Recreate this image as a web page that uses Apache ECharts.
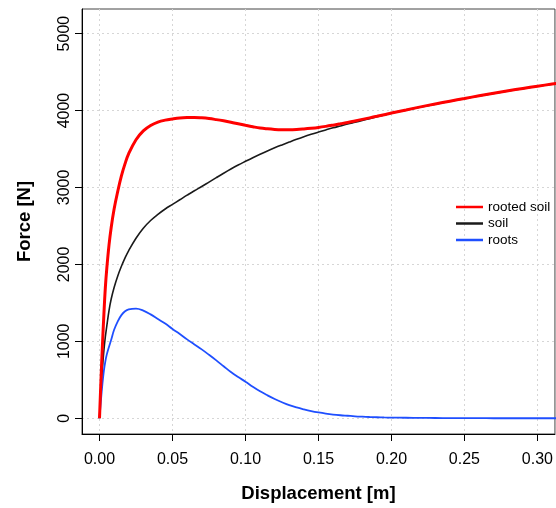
<!DOCTYPE html>
<html>
<head>
<meta charset="utf-8">
<script src="https://cdn.jsdelivr.net/npm/echarts@6/dist/echarts.min.js"></script>
<style>
html,body{margin:0;padding:0;background:#fff;}
#chart{width:556px;height:508px;}
</style>
</head>
<body>
<div id="chart"></div>
<script>
// Displacement [m]
const displacement = [0, 0.001, 0.002, 0.003, 0.004, 0.005, 0.0065, 0.008, 0.010, 0.0125, 0.015, 0.0175,
  0.020, 0.025, 0.030, 0.035, 0.040, 0.045, 0.050, 0.055, 0.060, 0.065,
  0.070, 0.075, 0.080, 0.085, 0.090, 0.095, 0.100, 0.105, 0.110, 0.115,
  0.120, 0.125, 0.130, 0.135, 0.140, 0.145, 0.150, 0.155, 0.160, 0.165,
  0.170, 0.175, 0.180, 0.185, 0.190, 0.195, 0.200,
  0.210, 0.220, 0.230, 0.240, 0.250, 0.260, 0.270, 0.280, 0.290, 0.300, 0.310, 0.320];
// Force [N]
const rootedSoil = [0, 500, 950, 1350, 1700, 1950, 2250, 2480, 2720, 2950, 3150, 3310,
  3440, 3620, 3735, 3805, 3850, 3875, 3890, 3902, 3908, 3910,
  3905, 3896, 3882, 3866, 3848, 3828, 3808, 3789, 3772, 3762,
  3755, 3751, 3750, 3753, 3760, 3769, 3780, 3794, 3810, 3827,
  3845, 3865, 3885, 3905, 3925, 3946, 3968,
  4008, 4048, 4086, 4122, 4157, 4192, 4225, 4257, 4287, 4316, 4344, 4370];
const soil = [0, 400, 650, 880, 1060, 1200, 1400, 1550, 1700, 1850, 1975, 2085,
  2180, 2340, 2470, 2570, 2650, 2720, 2780, 2840, 2900, 2958,
  3012, 3070, 3128, 3185, 3240, 3292, 3340, 3387, 3432, 3475,
  3515, 3553, 3590, 3626, 3660, 3691, 3720, 3748, 3775, 3800,
  3825, 3848, 3871, 3895, 3918, 3942, 3965,
  4005, 4045, 4083, 4120, 4155, 4190, 4223, 4255, 4285, 4315, 4343, 4370];
const roots = [0, 240, 450, 620, 740, 830, 930, 1020, 1150, 1260, 1340, 1390,
  1415, 1425, 1400, 1350, 1290, 1230, 1160, 1095, 1025, 960,
  895, 825, 752, 676, 600, 535, 475, 410, 350, 298,
  250, 208, 170, 140, 115, 93, 75, 60, 48, 39,
  32, 25, 20, 16, 13, 10, 8,
  6, 4, 3, 2, 1, 1, 0, 0, 0, 0, 0, 0];

const xTicks = [0, 0.05, 0.10, 0.15, 0.20, 0.25, 0.30];
const yTicks = [0, 1000, 2000, 3000, 4000, 5000];
const seriesNames = ['rooted soil', 'soil', 'roots'];

const FONT = '"Liberation Sans", Arial, Helvetica, sans-serif';
const pairs = arr => displacement.map((x, i) => [x, arr[i]]);

const chart = echarts.init(document.getElementById('chart'), null, {renderer: 'canvas'});
const gridLine = {show: true, lineStyle: {color: '#d6d6d6', type: [2, 3], width: 1}};

chart.setOption({
  backgroundColor: '#ffffff',
  animation: false,
  grid: {left: 82, top: 9, width: 477, height: 427, show: true,
         borderColor: '#444', borderWidth: 1, containLabel: false},
  legend: {
    data: seriesNames.map(n => ({name: n, icon: 'rect'})),
    orient: 'vertical', left: 451, top: 195,
    itemWidth: 27, itemHeight: 2.5, itemGap: 2.5, selectedMode: false,
    textStyle: {fontFamily: FONT, fontSize: 13.5, color: '#000'}
  },
  xAxis: {
    type: 'value', min: -0.012, max: 0.312,
    name: 'Displacement [m]', nameLocation: 'middle', nameGap: 50,
    nameTextStyle: {fontFamily: FONT, fontSize: 18.5, fontWeight: 'bold', color: '#000'},
    axisLine: {show: true, onZero: false, lineStyle: {color: '#000', width: 1}},
    axisTick: {show: true, length: 7, customValues: xTicks, lineStyle: {color: '#000'}},
    axisLabel: {customValues: xTicks, margin: 18, fontFamily: FONT, fontSize: 16, color: '#000',
                formatter: v => v.toFixed(2)},
    splitLine: gridLine
  },
  yAxis: {
    type: 'value', min: -205, max: 5320,
    name: 'Force [N]', nameLocation: 'middle', nameGap: 48, nameRotate: 90,
    nameTextStyle: {fontFamily: FONT, fontSize: 18.5, fontWeight: 'bold', color: '#000'},
    axisLine: {show: true, onZero: false, lineStyle: {color: '#000', width: 1}},
    axisTick: {show: true, length: 7, customValues: yTicks, lineStyle: {color: '#000'}},
    axisLabel: {customValues: yTicks, rotate: 90, margin: 9, fontFamily: FONT, fontSize: 16, color: '#000',
                formatter: v => String(v)},
    splitLine: gridLine
  },
  series: [
    {name: seriesNames[0], type: 'line', data: pairs(rootedSoil), symbol: 'none',
     smooth: 0.4, z: 4,
     lineStyle: {color: '#ff0000', width: 3}, itemStyle: {color: '#ff0000'}},
    {name: seriesNames[1], type: 'line', data: pairs(soil), symbol: 'none',
     smooth: 0.4, z: 3,
     lineStyle: {color: '#1a1a1a', width: 1.6}, itemStyle: {color: '#1a1a1a'}},
    {name: seriesNames[2], type: 'line', data: pairs(roots), symbol: 'none',
     smooth: 0.4, z: 3,
     lineStyle: {color: '#1f4fff', width: 1.8}, itemStyle: {color: '#1f4fff'}}
  ]
});
</script>
</body>
</html>
